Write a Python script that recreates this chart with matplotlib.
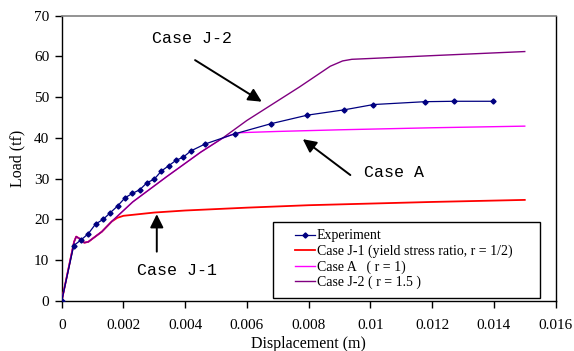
import matplotlib
matplotlib.use("Agg")
import matplotlib.pyplot as plt
from matplotlib.patches import Rectangle

# Measured load-displacement response
exp_disp = [0.0, 0.00039, 0.00063, 0.00086, 0.0011, 0.00134, 0.00158, 0.00181,
            0.00205, 0.00229, 0.00253, 0.00276, 0.0030, 0.00323, 0.00347,
            0.0037, 0.00394, 0.00418, 0.00464, 0.0056, 0.00678, 0.00796,
            0.00915, 0.0101, 0.01177, 0.01271, 0.01398]
exp_load = [0.0, 13.6, 15.0, 16.5, 18.9, 20.0, 21.7, 23.3,
            25.3, 26.4, 27.3, 29.0, 29.9, 31.9, 33.2,
            34.5, 35.3, 36.8, 38.5, 41.0, 43.5, 45.6,
            46.9, 48.2, 48.9, 49.0, 49.0]

# Case J-1 (r = 1/2)
j1_disp = [0.0, 0.0004, 0.00047, 0.0006, 0.00073, 0.00086, 0.0010, 0.0013,
           0.00162, 0.0018, 0.0020, 0.0025, 0.0030, 0.0040, 0.0060, 0.0080,
           0.0100, 0.0120, 0.0150]
j1_load = [0.0, 14.5, 15.8, 15.2, 14.3, 14.5, 15.3, 17.0,
           19.5, 20.4, 20.9, 21.3, 21.7, 22.2, 22.9, 23.5,
           23.9, 24.3, 24.8]

# Case A (r = 1)
a_disp = [0.0, 0.0004, 0.00047, 0.0006, 0.00073, 0.00086, 0.0010, 0.0013,
          0.00162, 0.0023, 0.0034, 0.0045, 0.0052, 0.0055, 0.0058, 0.0070,
          0.0090, 0.0120, 0.0150]
a_load = [0.0, 14.5, 15.8, 15.2, 14.3, 14.5, 15.3, 17.0,
          19.5, 24.3, 30.5, 36.5, 39.9, 40.8, 41.3, 41.6,
          42.0, 42.5, 42.9]

# Case J-2 (r = 1.5)
j2_disp = [0.0, 0.0004, 0.00047, 0.0006, 0.00073, 0.00086, 0.0010, 0.0013,
           0.00162, 0.0023, 0.0034, 0.0045, 0.0052, 0.0060, 0.0077, 0.0087,
           0.0091, 0.0094, 0.0100, 0.0120, 0.0150]
j2_load = [0.0, 14.5, 15.8, 15.2, 14.3, 14.5, 15.3, 17.0,
           19.5, 24.3, 30.5, 36.5, 39.9, 44.3, 52.5, 57.6,
           58.9, 59.3, 59.5, 60.2, 61.2]

x_ticks = [0.0, 0.002, 0.004, 0.006, 0.008, 0.010, 0.012, 0.014, 0.016]
x_ticklabels = ["0", "0.002", "0.004", "0.006", "0.008", "0.01", "0.012",
                "0.014", "0.016"]
y_ticks = [0, 10, 20, 30, 40, 50, 60, 70]

series_labels = ["Experiment",
                 "Case J-1 (yield stress ratio, r = 1/2)",
                 "Case A   ( r = 1)",
                 "Case J-2 ( r = 1.5 )"]

serif = "Liberation Serif"
mono = "Liberation Mono"

fig = plt.figure(figsize=(5.74, 3.51), dpi=100)
ax = fig.add_axes([0.1075, 0.1425, 0.8605, 0.8128])

ax.plot(j1_disp, j1_load, color="#FF0000", lw=1.3, label=series_labels[1], zorder=3)
ax.plot(a_disp, a_load, color="#FF00FF", lw=1.0, label=series_labels[2], zorder=3)
ax.plot(j2_disp, j2_load, color="#800080", lw=1.0, label=series_labels[3], zorder=4)
ax.plot(exp_disp, exp_load, color="#000080", lw=0.9, marker="D", ms=2.6,
        label=series_labels[0], zorder=5)

ax.set_xlim(0, 0.016)
ax.set_ylim(0, 70)
ax.set_xticks(x_ticks)
ax.set_xticklabels(x_ticklabels)
ax.set_yticks(y_ticks)
ax.tick_params(axis="both", direction="out", length=5, width=1, colors="black")
ax.tick_params(axis="x", pad=8)
ax.tick_params(axis="y", pad=4)
for lab in ax.get_xticklabels() + ax.get_yticklabels():
    lab.set_fontfamily(serif)
    lab.set_fontsize(11)

ax.set_xlabel("Displacement (m)", fontfamily=serif, fontsize=11.5, labelpad=3)
ax.set_ylabel("Load (tf)", fontfamily=serif, fontsize=11.5, labelpad=6)

for side in ("left", "bottom", "right"):
    ax.spines[side].set_color("black")
    ax.spines[side].set_linewidth(1.0)
ax.spines["top"].set_color("#808080")
ax.spines["top"].set_linewidth(1.2)

# Legend frame drawn as a plain rectangle
ax.add_patch(Rectangle((0.00686, 0.66), 0.00862, 18.64, transform=ax.transData,
                       facecolor="white", edgecolor="black", lw=1.0, zorder=6))
handles, labels = ax.get_legend_handles_labels()
order = [3, 0, 1, 2]
leg = ax.legend([handles[i] for i in order], [labels[i] for i in order],
                loc="upper left", bbox_to_anchor=(0.4724, 0.251),
                frameon=False, prop={"family": serif, "size": 10},
                handlelength=1.45, handletextpad=0.1, labelspacing=0.16,
                borderaxespad=0, borderpad=0)
leg.set_zorder(7)

arrow = dict(arrowstyle="-|>", color="black", lw=1.4, mutation_scale=20,
             shrinkA=0, shrinkB=0)
ax.annotate("", xy=(0.00648, 48.9), xytext=(0.00432, 59.1), arrowprops=arrow)
ax.text(0.00421, 64.4, "Case J-2", fontfamily=mono, fontsize=12,
        ha="center", va="center")
ax.annotate("", xy=(0.00781, 39.7), xytext=(0.00935, 30.9), arrowprops=arrow)
ax.text(0.01075, 31.5, "Case A", fontfamily=mono, fontsize=12,
        ha="center", va="center")
ax.annotate("", xy=(0.00308, 21.3), xytext=(0.00308, 12.1), arrowprops=arrow)
ax.text(0.00373, 7.6, "Case J-1", fontfamily=mono, fontsize=12,
        ha="center", va="center")

fig.savefig("out.png", dpi=100)
